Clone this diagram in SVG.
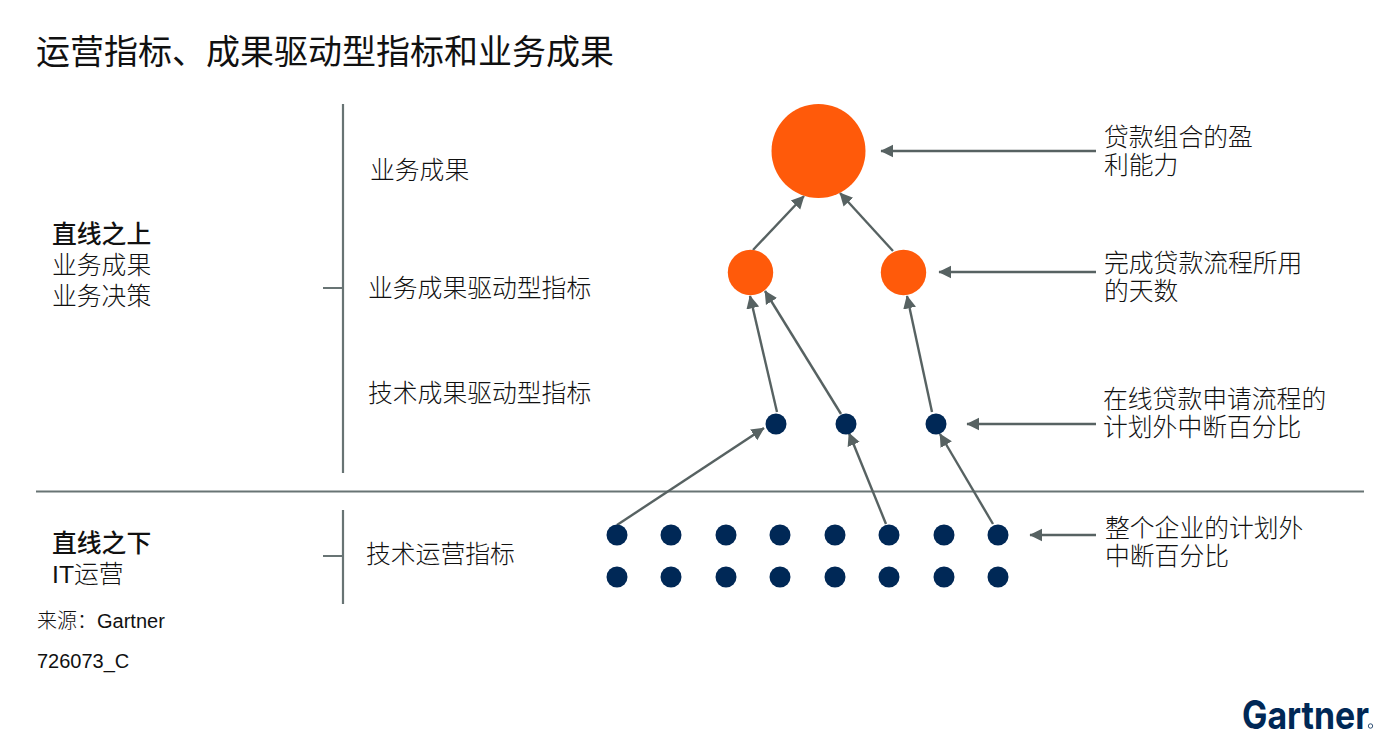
<svg xmlns="http://www.w3.org/2000/svg" width="1400" height="743" viewBox="0 0 1400 743">
<style>
text{font-family:"Noto Sans CJK SC","Liberation Sans",sans-serif;fill:#111;font-size:24.800px;font-weight:300}
.lat{font-family:"Liberation Sans","Noto Sans CJK SC",sans-serif}
.b{font-weight:500}
.t{font-size:34px;font-weight:400}
.s{font-size:20px}
.rule{stroke:#687474;stroke-width:2.200;fill:none}
.arr{stroke:#576262;stroke-width:2.400;fill:none;marker-end:url(#ah)}
.o{fill:#ff5a0a}
.n{fill:#002856}
</style>
<defs>
<marker id="ah" viewBox="0 0 10 10" refX="9.500" refY="5" markerWidth="13" markerHeight="16" markerUnits="userSpaceOnUse" orient="auto"><path d="M0 0L10 5L0 10Z" fill="#576262"/></marker>
</defs>
<rect width="1400" height="743" fill="#fff"/>
<g id="title"><text class="t" x="36" y="64">运营指标、成果驱动型指标和业务成果</text></g>
<g id="rules">
<path class="rule" d="M343 104V473M323 288H343M36 491.500H1364M343 510V604M323 556H343"/>
</g>
<g id="above"><text x="52"><tspan class="b" x="52" y="243">直线之上</tspan><tspan x="52" y="274">业务成果</tspan><tspan x="52" y="305">业务决策</tspan></text></g>
<g id="below"><text x="52"><tspan class="b" x="52" y="552">直线之下</tspan><tspan x="52" y="583"><tspan class="lat">IT</tspan>运营</tspan></text></g>
<g id="source"><text class="s" x="37" y="628">来源：<tspan class="lat">Gartner</tspan></text><text class="s lat" x="37" y="668">726073_C</text></g>
<g id="levels">
<text x="370" y="179">业务成果</text>
<text x="368" y="297">业务成果驱动型指标</text>
<text x="368" y="402">技术成果驱动型指标</text>
<text x="366" y="563">技术运营指标</text>
</g>
<g id="connectors">
<path class="arr" d="M1096 151H881"/>
<path class="arr" d="M1096 272H939"/>
<path class="arr" d="M1096 424H967"/>
<path class="arr" d="M1096 535H1030"/>
<path class="arr" d="M753 250L804 196"/>
<path class="arr" d="M893 251L840 193"/>
<path class="arr" d="M777 412L750 296"/>
<path class="arr" d="M841 414L765 291"/>
<path class="arr" d="M932 412L907 296"/>
<path class="arr" d="M617 525L764 428"/>
<path class="arr" d="M886 524L849 433"/>
<path class="arr" d="M993 524L940 434"/>
</g>
<g id="n-outcome"><circle class="o" cx="818.500" cy="151" r="47"/></g>
<g id="n-driver-1"><circle class="o" cx="750.500" cy="272.500" r="22.700"/></g>
<g id="n-driver-2"><circle class="o" cx="903.500" cy="272.500" r="22.700"/></g>
<g id="n-tech-1"><circle class="n" cx="776" cy="424" r="10.500"/></g>
<g id="n-tech-2"><circle class="n" cx="846" cy="424" r="10.500"/></g>
<g id="n-tech-3"><circle class="n" cx="936" cy="424" r="10.500"/></g>
<g id="n-ops" class="n">
<circle cx="617" cy="535" r="10.500"/><circle cx="671" cy="535" r="10.500"/><circle cx="726" cy="535" r="10.500"/><circle cx="780" cy="535" r="10.500"/><circle cx="835" cy="535" r="10.500"/><circle cx="889" cy="535" r="10.500"/><circle cx="944" cy="535" r="10.500"/><circle cx="998" cy="535" r="10.500"/>
<circle cx="617" cy="577" r="10.500"/><circle cx="671" cy="577" r="10.500"/><circle cx="726" cy="577" r="10.500"/><circle cx="780" cy="577" r="10.500"/><circle cx="835" cy="577" r="10.500"/><circle cx="889" cy="577" r="10.500"/><circle cx="944" cy="577" r="10.500"/><circle cx="998" cy="577" r="10.500"/>
</g>
<g id="examples">
<text><tspan x="1104" y="146">贷款组合的盈</tspan><tspan x="1104" y="174">利能力</tspan></text>
<text><tspan x="1104" y="272">完成贷款流程所用</tspan><tspan x="1104" y="300">的天数</tspan></text>
<text><tspan x="1103" y="408">在线贷款申请流程的</tspan><tspan x="1103" y="436">计划外中断百分比</tspan></text>
<text><tspan x="1105" y="537">整个企业的计划外</tspan><tspan x="1105" y="565">中断百分比</tspan></text>
</g>
<g id="logo"><text x="1242" y="729" textLength="127" lengthAdjust="spacingAndGlyphs" style="font-family:Inter,'Liberation Sans',sans-serif;font-size:39px;font-weight:700;fill:#002856">Gartner</text><circle cx="1370.500" cy="726" r="2.200" fill="none" stroke="#002856" stroke-width="0.800"/></g>
</svg>
